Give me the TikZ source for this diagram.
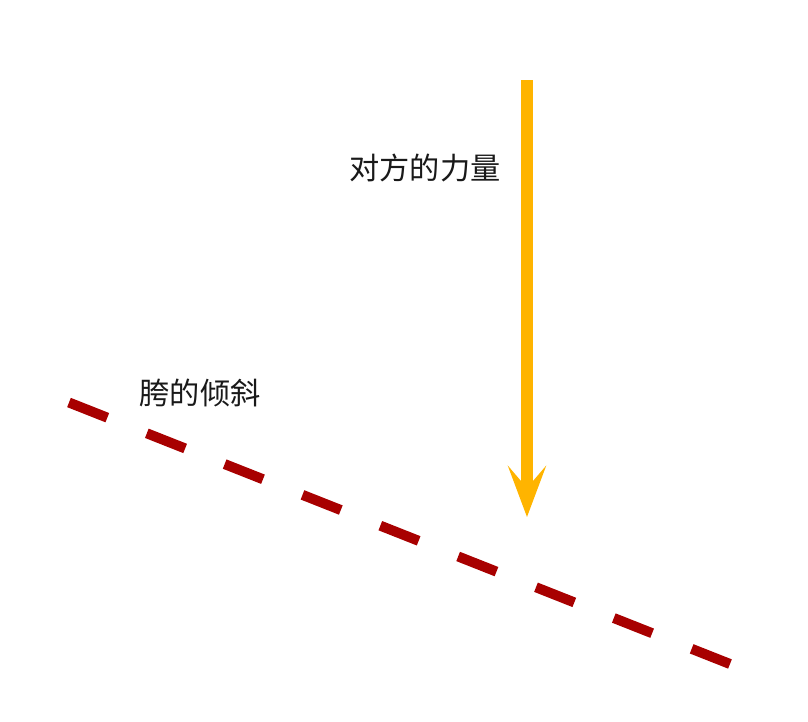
\documentclass[tikz,border=0pt]{standalone}
\usepackage{fontspec}
\newfontfamily\cjk{Noto Sans CJK SC}
\usetikzlibrary{arrows.meta}
\definecolor{forceorange}{HTML}{FFB400}
\definecolor{hipred}{HTML}{A80000}
\tikzset{
  lbl/.style={font=\cjk\fontsize{30.2}{32}\selectfont, text=black!90, inner sep=0pt},
  forcearrow/.style={draw=forceorange, line width=12pt, -{Stealth[length=51pt,width=38pt,inset=22pt,fill=forceorange]}},
  hipline/.style={draw=hipred, line width=10pt, dash pattern=on 41.2pt off 42.5pt}
}
\begin{document}
\begin{tikzpicture}[x=1pt,y=-1pt]
\useasboundingbox (0,0) rectangle (808,721);
\coordinate (ftop) at (527,80);
\coordinate (ftip) at (527,517);
\draw[forcearrow] (ftop) -- (ftip);
\coordinate (hstart) at (69,402.5);
\coordinate (hend) at (730,664);
\draw[hipline] (hstart) -- (hend);
\node[lbl] (force) at (425,168) {对方的力量};
\node[lbl] (hip) at (200,393) {胯的倾斜};
\end{tikzpicture}
\end{document}
